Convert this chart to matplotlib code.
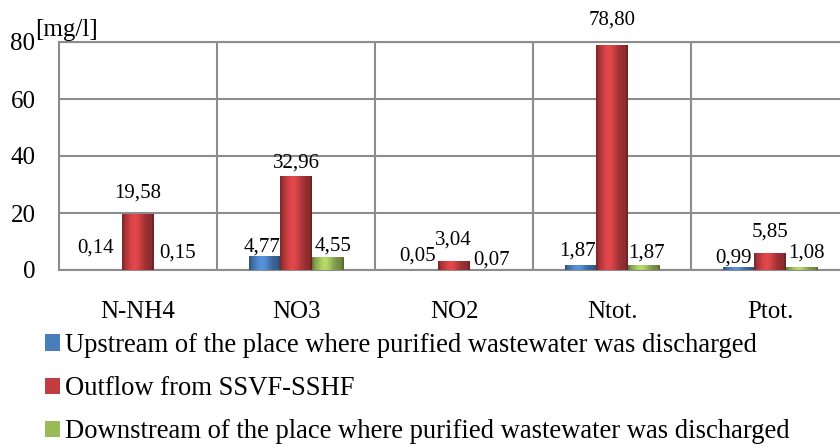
import numpy as np
import matplotlib.pyplot as plt
from matplotlib.patches import Patch
from matplotlib.colors import to_rgb

plt.rcParams['font.family'] = ['Liberation Serif', 'DejaVu Serif']

categories = ['N-NH4', 'NO3', 'NO2', 'Ntot.', 'Ptot.']
upstream = [0.14, 4.77, 0.05, 1.87, 0.99]
outflow = [19.58, 32.96, 3.04, 78.80, 5.85]
downstream = [0.15, 4.55, 0.07, 1.87, 1.08]
series_names = ['Upstream of the place where purified wastewater was discharged',
                'Outflow from SSVF-SSHF',
                'Downstream of the place where purified wastewater was discharged']
yticks = [0, 20, 40, 60, 80]

colors = ['#4a7ebb', '#c23d40', '#9bbb59']

# label nudges (pixels) for each series / category, Excel-style placement
label_dx = [[-11, -2, -5, -3, -5],
            [0, 0, -1, 0, 0],
            [8, 5, 6, 3, 5]]
label_dy = [[22, 9, 14, 14, 9],
            [21, 13, 21, 25, 21],
            [17, 11, 10, 12, 14]]

fig = plt.figure(figsize=(8.4, 4.47), dpi=100)
ax = fig.add_axes([59/840, 1 - 270/447, 790/840, 228/447])

x = np.arange(len(categories))
bw = 0.2
grid_c = '#8c8c8c'


def shade_bar(rect, base):
    # horizontal gradient to give the bars a bevelled look
    r, g, b = to_rgb(base)
    t = np.linspace(0, 1, 64)
    prof = 0.72 + 0.45 * np.exp(-((t - 0.4) / 0.28) ** 2)
    prof[:4] *= 0.85
    prof[-4:] *= 0.8
    img = np.clip(np.stack([np.outer(np.ones(8), prof * c) for c in (r, g, b)], axis=-1), 0, 1)
    x0, y0 = rect.get_x(), rect.get_y()
    w, h = rect.get_width(), rect.get_height()
    if h <= 0:
        return
    im = ax.imshow(img, extent=[x0, x0 + w, y0, y0 + h], aspect='auto',
                   zorder=rect.get_zorder() + 0.1, interpolation='bilinear')
    im.set_clip_path(rect)


for i, (vals, col) in enumerate(zip([upstream, outflow, downstream], colors)):
    bars = ax.bar(x + (i - 1) * bw, vals, bw, color=col, zorder=3, linewidth=0)
    for j, (rect, v) in enumerate(zip(bars, vals)):
        shade_bar(rect, col)
        ax.annotate(f'{v:.2f}'.replace('.', ','),
                    (rect.get_x() + rect.get_width() / 2, v),
                    xytext=(label_dx[i][j], label_dy[i][j]), textcoords='offset pixels',
                    ha='center', va='center', fontsize=15, zorder=5)

ax.set_xlim(-0.5, len(categories) - 0.5)
ax.set_ylim(0, 80)
ax.set_yticks(yticks)
ax.set_xticks(x)
ax.set_xticklabels(categories)
ax.set_xticks(np.arange(len(categories) + 1) - 0.5, minor=True)
ax.tick_params(axis='y', length=0, labelsize=18, pad=17)
ax.tick_params(axis='x', which='both', length=0, labelsize=18, pad=22)
ax.yaxis.grid(True, color=grid_c, lw=1.5, zorder=0)
ax.xaxis.grid(True, which='minor', color=grid_c, lw=1.5, zorder=0)
ax.xaxis.grid(False, which='major')
for s in ax.spines.values():
    s.set_color(grid_c)
    s.set_linewidth(1.5)
ax.set_axisbelow(True)

fig.text(35/840, 1 - 30/447, '[mg/l]', fontsize=18, ha='left', va='center')

handles = [Patch(facecolor=c, edgecolor='none') for c in colors]
fig.legend(handles, series_names, loc='upper left', bbox_to_anchor=(45/840, 1 - 333/447),
           frameon=False, fontsize=19.2, handlelength=0.56, handleheight=0.56,
           handletextpad=0.19, labelspacing=0.68, borderaxespad=0, borderpad=0)

fig.savefig('out.png', dpi=100)
